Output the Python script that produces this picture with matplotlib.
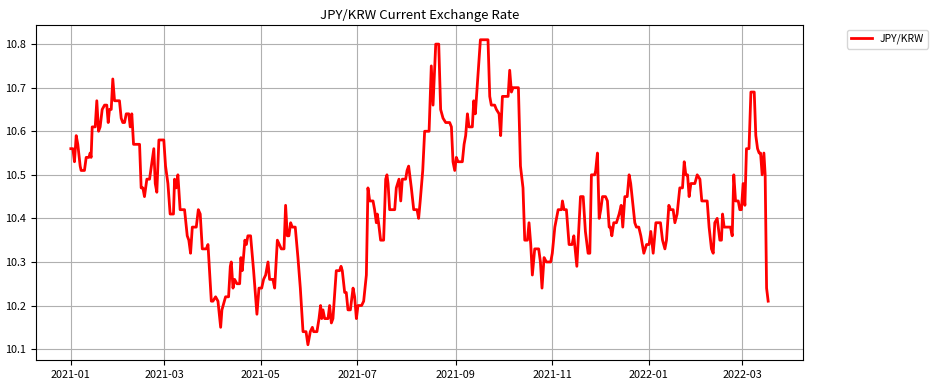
import matplotlib
matplotlib.use("Agg")
import matplotlib.pyplot as plt
import pandas as pd

plt.rcParams['font.family'] = ['Noto Sans CJK KR', 'DejaVu Sans']

start_date = "2021-01-01"
day_offsets = [0, 1.3, 2.3, 3.4, 4.4, 5.9, 6.5, 8.6, 9.7, 11.4, 12.2, 12.8, 13.5, 15.4, 16.4, 17.5, 18.5, 19.8, 21.3, 22.7,
               23.6, 24.4, 25.5, 26.5, 27.6, 30.7, 31.8, 32.8, 33.9, 35, 36.6, 37.5, 38.5, 39.6, 43.4, 44.4, 45.5, 46.5, 48, 49.7,
               52.4, 53.3, 54.3, 55.6, 58.7, 59.8, 61.3, 62.7, 64.8, 65.5, 66.5, 67.6, 69, 71.8, 73.5, 74.5, 75.6, 76.7, 79.2, 80.5,
               81.7, 83, 85.5, 86.6, 88.7, 89.7, 91.4, 92.9, 94.6, 95.4, 97.7, 99.6, 100.7, 101.3, 102.4, 103.4, 104.9, 106.6, 107.4, 108.2,
               109, 109.9, 110.8, 111.8, 113.5, 115.4, 117.5, 118.8, 120.5, 121.7, 123, 124.5, 125.5, 127.6, 128.7, 130.4, 132.9, 134.6, 135.6, 136.7,
               137.7, 138.8, 139.8, 141.7, 143.4, 144.9, 146.6, 148.5, 149.7, 151.2, 152.5, 153.3, 155.4, 156.7, 157.7, 158.4, 159.2, 160.3, 162.4, 163.4,
               164.5, 165.5, 167.6, 169.7, 170.6, 171.4, 172.9, 173.9, 175, 176.5, 178.2, 179.2, 180.3, 181.3, 183.6, 184.9, 186.6, 187.6, 188.7, 190.8,
               191.8, 192.9, 193.5, 194.3, 195.6, 197.5, 198.8, 199.6, 200.3, 201.3, 204.5, 205.5, 207.2, 208.3, 209.3, 211.4, 212.3, 213.3, 215, 216.5,
               218.6, 219.6, 220.6, 222.2, 223.4, 226.2, 227.6, 228.7, 230.4, 232.3, 233.5, 235, 236.7, 239.2, 240.3, 241.3, 242.4, 243.4, 244.5, 247.2,
               248.3, 249.3, 250.4, 251.4, 253.5, 254.4, 255.4, 257.1, 258.6, 263.4, 264.5, 265.5, 267.6, 268.7, 270.4, 271.4, 272.5, 276.1, 277.1, 278.2,
               279.2, 282.6, 283.9, 285.5, 286.6, 288.3, 289.3, 290.4, 291.4, 292.9, 295.4, 296.5, 297.5, 298.8, 300.3, 303, 304, 305.6, 307.7, 309.8,
               310.4, 311.4, 312.9, 314.6, 316.5, 317.6, 318.4, 319.5, 321.8, 323.5, 324.9, 326.6, 327.7, 328.7, 330.8, 331.4, 332.5, 333.6, 334.6, 335.7,
               337.6, 338.8, 339.9, 340.7, 341.6, 342.8, 344.5, 346.2, 347.5, 348.5, 349.8, 351.3, 352.5, 353.5, 356.1, 357.1, 358.6, 359.9, 361.8, 363.5,
               365.1, 366.2, 367.7, 369.4, 372.3, 373.6, 375.1, 376.1, 377.6, 378.6, 380.3, 381.4, 382.8, 384.5, 386.2, 387.3, 388.3, 389.4, 390.4, 391.5,
               394, 395.5, 397.2, 398.4, 401.8, 403, 404.5, 405.6, 406.6, 408.1, 409.8, 410.8, 411.5, 412.5, 416.5, 417.6, 418.6, 419.7, 421.4, 422.4,
               423.4, 424.5, 425.6, 426.6, 428.2, 429.4, 431.5, 432.5, 433.6, 434.6, 435.5, 436.5, 437.6, 438.4, 439.3, 440.3]
jpy_krw = [10.56, 10.56, 10.53, 10.59, 10.57, 10.52, 10.51, 10.51, 10.54, 10.54, 10.55, 10.54, 10.61, 10.61, 10.67, 10.60, 10.61, 10.65, 10.66, 10.66,
           10.62, 10.65, 10.65, 10.72, 10.67, 10.67, 10.63, 10.62, 10.62, 10.64, 10.64, 10.61, 10.64, 10.57, 10.57, 10.47, 10.47, 10.45, 10.49, 10.49,
           10.56, 10.48, 10.46, 10.58, 10.58, 10.52, 10.48, 10.41, 10.41, 10.49, 10.47, 10.50, 10.42, 10.42, 10.36, 10.35, 10.32, 10.38, 10.38, 10.42,
           10.41, 10.33, 10.33, 10.34, 10.21, 10.21, 10.22, 10.21, 10.15, 10.19, 10.22, 10.22, 10.29, 10.30, 10.24, 10.26, 10.25, 10.25, 10.31, 10.28,
           10.31, 10.35, 10.34, 10.36, 10.36, 10.28, 10.18, 10.24, 10.24, 10.26, 10.27, 10.30, 10.26, 10.26, 10.24, 10.35, 10.33, 10.33, 10.43, 10.36,
           10.36, 10.39, 10.38, 10.38, 10.31, 10.24, 10.14, 10.14, 10.11, 10.14, 10.15, 10.14, 10.14, 10.17, 10.20, 10.17, 10.19, 10.17, 10.17, 10.20,
           10.16, 10.17, 10.28, 10.28, 10.29, 10.28, 10.23, 10.23, 10.19, 10.19, 10.24, 10.22, 10.17, 10.20, 10.20, 10.21, 10.27, 10.47, 10.44, 10.44,
           10.42, 10.39, 10.41, 10.39, 10.35, 10.35, 10.49, 10.50, 10.48, 10.42, 10.42, 10.47, 10.49, 10.44, 10.49, 10.49, 10.51, 10.52, 10.47, 10.42,
           10.42, 10.40, 10.44, 10.51, 10.60, 10.60, 10.75, 10.66, 10.80, 10.80, 10.65, 10.63, 10.62, 10.62, 10.61, 10.53, 10.51, 10.54, 10.53, 10.53,
           10.57, 10.59, 10.64, 10.61, 10.61, 10.67, 10.64, 10.73, 10.81, 10.81, 10.68, 10.66, 10.66, 10.65, 10.64, 10.59, 10.68, 10.68, 10.74, 10.69,
           10.70, 10.70, 10.52, 10.47, 10.35, 10.35, 10.39, 10.34, 10.27, 10.33, 10.33, 10.30, 10.24, 10.31, 10.30, 10.30, 10.32, 10.38, 10.42, 10.42,
           10.44, 10.42, 10.42, 10.34, 10.34, 10.36, 10.33, 10.29, 10.45, 10.45, 10.37, 10.32, 10.32, 10.50, 10.50, 10.51, 10.55, 10.40, 10.42, 10.45,
           10.45, 10.44, 10.38, 10.38, 10.36, 10.39, 10.39, 10.41, 10.43, 10.38, 10.45, 10.45, 10.50, 10.48, 10.39, 10.38, 10.38, 10.36, 10.32, 10.34,
           10.34, 10.37, 10.32, 10.39, 10.39, 10.35, 10.33, 10.35, 10.43, 10.42, 10.42, 10.39, 10.41, 10.47, 10.47, 10.53, 10.50, 10.50, 10.45, 10.48,
           10.48, 10.50, 10.49, 10.44, 10.44, 10.38, 10.33, 10.32, 10.39, 10.40, 10.35, 10.35, 10.41, 10.38, 10.38, 10.36, 10.50, 10.44, 10.44, 10.42,
           10.42, 10.48, 10.43, 10.56, 10.56, 10.69, 10.69, 10.59, 10.56, 10.55, 10.55, 10.50, 10.55, 10.50, 10.24, 10.21]

dates = pd.Timestamp(start_date) + pd.to_timedelta(day_offsets, unit="D")

fig = plt.figure(figsize=(9.39, 3.86), dpi=100)
ax = fig.add_axes([0.0383, 0.0674, 0.8169, 0.8691])
ax.plot(dates, jpy_krw, color="red", linewidth=2, label="JPY/KRW")
ax.set_title("JPY/KRW Current Exchange Rate", fontsize=9.5, pad=4)
ax.grid(True)
ax.legend(loc="upper left", bbox_to_anchor=(1.05, 1), fontsize=7.5)
ax.tick_params(labelsize=7.8)
fig.savefig("out.png", dpi=100)
